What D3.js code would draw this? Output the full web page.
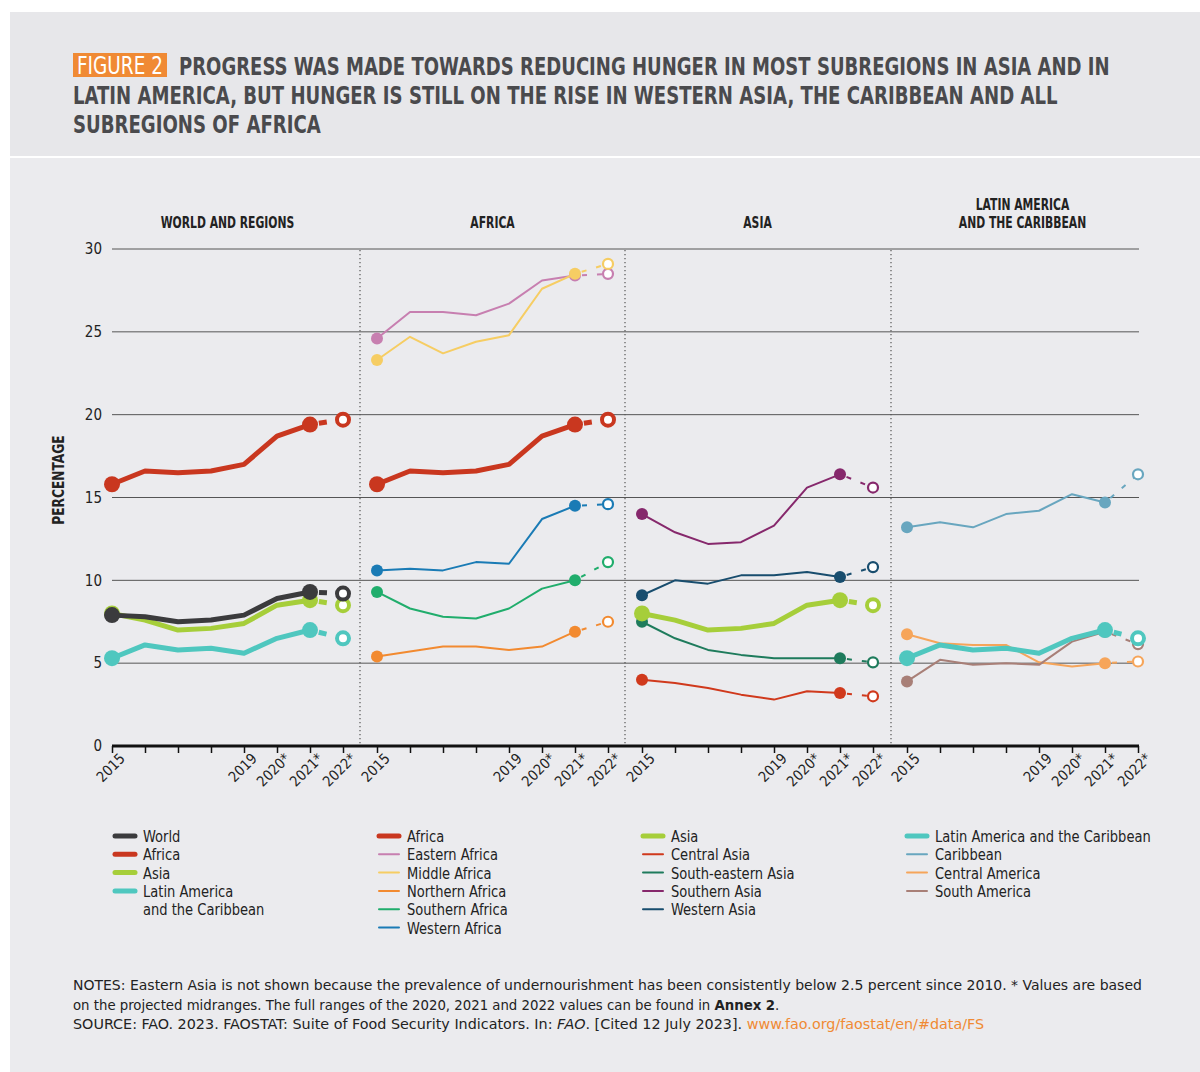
<!DOCTYPE html>
<html>
<head>
<meta charset="utf-8">
<script src="https://cdn.jsdelivr.net/npm/d3@7"></script>
<style>
  body { margin: 0; background: #fff; }
  svg text { font-family: 'DejaVu Sans Condensed', 'DejaVu Sans', sans-serif; }
</style>
</head>
<body>
<svg id="chart" width="1200" height="1072"></svg>
<script>
// years and labels
var years = [2015, 2016, 2017, 2018, 2019, 2020, 2021, 2022];
var tickLabels = ['2015', '', '', '', '2019', '2020*', '2021*', '2022*'];
var yTicks = [0, 5, 10, 15, 20, 25, 30];

// world and regions
var world = [7.9, 7.8, 7.5, 7.6, 7.9, 8.9, 9.3, 9.2];
var africa = [15.8, 16.6, 16.5, 16.6, 17.0, 18.7, 19.4, 19.7];
var asia = [8.0, 7.6, 7.0, 7.1, 7.4, 8.5, 8.8, 8.5];
var latam = [5.3, 6.1, 5.8, 5.9, 5.6, 6.5, 7.0, 6.5];

// africa subregions
var easternAfrica = [24.6, 26.2, 26.2, 26.0, 26.7, 28.1, 28.4, 28.5];
var middleAfrica = [23.3, 24.7, 23.7, 24.4, 24.8, 27.6, 28.5, 29.1];
var northernAfrica = [5.4, 5.7, 6.0, 6.0, 5.8, 6.0, 6.9, 7.5];
var southernAfrica = [9.3, 8.3, 7.8, 7.7, 8.3, 9.5, 10.0, 11.1];
var westernAfrica = [10.6, 10.7, 10.6, 11.1, 11.0, 13.7, 14.5, 14.6];

// asia subregions
var centralAsia = [4.0, 3.8, 3.5, 3.1, 2.8, 3.3, 3.2, 3.0];
var southEasternAsia = [7.5, 6.5, 5.8, 5.5, 5.3, 5.3, 5.3, 5.05];
var southernAsia = [14.0, 12.9, 12.2, 12.3, 13.3, 15.6, 16.4, 15.6];
var westernAsia = [9.1, 10.0, 9.8, 10.3, 10.3, 10.5, 10.2, 10.8];

// latin america subregions
var caribbean = [13.2, 13.5, 13.2, 14.0, 14.2, 15.2, 14.7, 16.4];
var centralAmerica = [6.75, 6.2, 6.1, 6.1, 5.05, 4.8, 5.0, 5.1];
var southAmerica = [3.9, 5.2, 4.9, 5.0, 4.9, 6.3, 6.9, 6.15];

var colors = {
  'World': '#3b3b3d', 'Africa': '#c9371f', 'Asia': '#a6ce3a', 'Latin America and the Caribbean': '#4fc7bf',
  'Eastern Africa': '#c77fb0', 'Middle Africa': '#f6cd63', 'Northern Africa': '#f28a30',
  'Southern Africa': '#20ad6c', 'Western Africa': '#1a7bb5',
  'Central Asia': '#d0391c', 'South-eastern Asia': '#1e7b5c', 'Southern Asia': '#86286c', 'Western Asia': '#184d6e',
  'Caribbean': '#68a6bf', 'Central America': '#f6a55a', 'South America': '#a87f77'
};
var thick = ['World', 'Africa', 'Asia', 'Latin America and the Caribbean'];

var panels = [
  { title: ['WORLD AND REGIONS'], series: [['Africa', africa], ['Latin America and the Caribbean', latam], ['Asia', asia], ['World', world]] },
  { title: ['AFRICA'], series: [['Eastern Africa', easternAfrica], ['Middle Africa', middleAfrica], ['Africa', africa],
      ['Western Africa', westernAfrica], ['Southern Africa', southernAfrica], ['Northern Africa', northernAfrica]] },
  { title: ['ASIA'], series: [['Southern Asia', southernAsia], ['Western Asia', westernAsia], ['South-eastern Asia', southEasternAsia],
      ['Asia', asia], ['Central Asia', centralAsia]] },
  { title: ['LATIN AMERICA', 'AND THE CARIBBEAN'], series: [['Caribbean', caribbean], ['Central America', centralAmerica],
      ['South America', southAmerica], ['Latin America and the Caribbean', latam]] }
];

var legendCols = [
  [['World', 'World'], ['Africa', 'Africa'], ['Asia', 'Asia'], ['Latin America and the Caribbean', 'Latin America|and the Caribbean']],
  [['Africa', 'Africa'], ['Eastern Africa', 'Eastern Africa'], ['Middle Africa', 'Middle Africa'], ['Northern Africa', 'Northern Africa'],
   ['Southern Africa', 'Southern Africa'], ['Western Africa', 'Western Africa']],
  [['Asia', 'Asia'], ['Central Asia', 'Central Asia'], ['South-eastern Asia', 'South-eastern Asia'], ['Southern Asia', 'Southern Asia'], ['Western Asia', 'Western Asia']],
  [['Latin America and the Caribbean', 'Latin America and the Caribbean'], ['Caribbean', 'Caribbean'], ['Central America', 'Central America'], ['South America', 'South America']]
];

var svg = d3.select('#chart');

// squeeze a text horizontally by k, keeping glyph height (fake condensed face)
function condense(t, k) {
  var x = +t.attr('x'), y = +t.attr('y'), fs = +t.attr('font-size');
  t.attr('x', 0).attr('y', 0).attr('font-size', fs * k)
    .attr('transform', 'translate(' + x + ',' + y + ') scale(1,' + (1 / k) + ')');
  return t;
}
// squeeze to a given width
function fitWidth(t, w) {
  var nat = t.node().getComputedTextLength();
  return condense(t, w / nat);
}

// backgrounds
svg.append('rect').attr('x', 10).attr('y', 12).attr('width', 1190).attr('height', 1060).attr('fill', '#ebebee');
svg.append('rect').attr('x', 10).attr('y', 12).attr('width', 1190).attr('height', 144).attr('fill', '#e7e7ea');
svg.append('line').attr('x1', 10).attr('x2', 1200).attr('y1', 157).attr('y2', 157).attr('stroke', '#fff').attr('stroke-width', 2);

// title
svg.append('rect').attr('x', 73).attr('y', 53).attr('width', 94).attr('height', 24).attr('fill', '#f08a34');
fitWidth(svg.append('text').attr('x', 77).attr('y', 74).attr('fill', '#fff').attr('font-size', 24).text('FIGURE 2'), 86);
var titleLines = [
  [179, 75, 931, 'PROGRESS WAS MADE TOWARDS REDUCING HUNGER IN MOST SUBREGIONS IN ASIA AND IN'],
  [73, 104, 985, 'LATIN AMERICA, BUT HUNGER IS STILL ON THE RISE IN WESTERN ASIA, THE CARIBBEAN AND ALL'],
  [73, 133, 248, 'SUBREGIONS OF AFRICA']
];
titleLines.forEach(function(t) {
  var el = svg.append('text').attr('x', t[0]).attr('y', t[1]).attr('font-size', 24.5).attr('font-weight', 'bold')
    .attr('fill', '#4a4a4d').text(t[3]);
  fitWidth(el, t[2]);
});

var y = d3.scaleLinear().domain([0, 30]).range([746, 249]);
var xLeft = 112, xRight = 1139, panelStep = 265, panelWidth = 231;

// gridlines
svg.append('g').selectAll('line').data(yTicks.filter(function(d) { return d > 0; })).join('line')
  .attr('x1', xLeft).attr('x2', xRight).attr('y1', y).attr('y2', y)
  .attr('stroke', '#555').attr('stroke-width', 1);

var yAxis = svg.append('g').attr('transform', 'translate(' + xLeft + ',0)')
  .call(d3.axisLeft(y).tickValues(yTicks).tickSize(0).tickPadding(10));
yAxis.select('.domain').remove();
yAxis.selectAll('text').attr('font-size', 15).attr('fill', '#222')
  .style('font-family', "'DejaVu Sans Condensed', sans-serif");

condense(svg.append('text').attr('x', 0).attr('y', 0).attr('text-anchor', 'middle')
  .attr('font-size', 16).attr('font-weight', 'bold').attr('fill', '#222').text('PERCENTAGE'), 0.85)
  .attr('transform', 'translate(64,480) rotate(-90) scale(1,' + (1 / 0.85) + ')');

// separators
[360, 625, 891].forEach(function(sx) {
  svg.append('line').attr('x1', sx).attr('x2', sx).attr('y1', 250).attr('y2', 744)
    .attr('stroke', '#555').attr('stroke-width', 1.2).attr('stroke-dasharray', '1.2,2.8');
});

// base axis line
svg.append('line').attr('x1', xLeft).attr('x2', xRight).attr('y1', 746).attr('y2', 746)
  .attr('stroke', '#111').attr('stroke-width', 3);

panels.forEach(function(p, i) {
  var x0 = xLeft + i * panelStep;
  var x = d3.scaleLinear().domain([2015, 2022]).range([x0, x0 + panelWidth]);
  var g = svg.append('g');

  // x axis
  var xa = g.append('g').attr('transform', 'translate(0,746)')
    .call(d3.axisBottom(x).tickValues(years).tickSize(7).tickFormat(function(d, k) { return tickLabels[k]; }));
  xa.select('.domain').remove();
  xa.selectAll('.tick line').attr('stroke', '#111').attr('stroke-width', 1.5);
  xa.selectAll('text').attr('font-size', 14.5).attr('fill', '#222').attr('text-anchor', 'end')
    .attr('transform', 'translate(7,7) rotate(-45)').attr('dy', '0.35em').attr('y', 4).attr('x', 0)
    .style('font-family', "'DejaVu Sans Condensed', sans-serif");

  // panel title
  p.title.forEach(function(t, k) {
    var el = g.append('text').attr('x', x0 + panelWidth / 2).attr('y', 228 - (p.title.length - 1 - k) * 18)
      .attr('text-anchor', 'middle').attr('font-size', 15).attr('font-weight', 'bold').attr('fill', '#222').text(t);
    condense(el, 0.8);
  });

  p.series.forEach(function(s) {
    var name = s[0], vals = s[1], c = colors[name], isThick = thick.indexOf(name) >= 0;
    var pts = years.map(function(yr, k) { return [x(yr), y(vals[k])]; });
    var sw = isThick ? 5 : 2;
    var line = d3.line().curve(d3.curveLinear);
    g.append('path').attr('d', line(pts.slice(0, 7))).attr('fill', 'none').attr('stroke', c)
      .attr('stroke-width', sw).attr('stroke-linejoin', 'round');
    g.append('path').attr('d', line(pts.slice(6, 8))).attr('fill', 'none').attr('stroke', c)
      .attr('stroke-width', sw).attr('stroke-dasharray', isThick ? '0,9,8,4' : '0,7,5,3');
    var r = isThick ? 8 : 6;
    [0, 6].forEach(function(k) {
      g.append('circle').attr('cx', pts[k][0]).attr('cy', pts[k][1]).attr('r', r).attr('fill', c);
    });
    g.append('circle').attr('cx', pts[7][0]).attr('cy', pts[7][1]).attr('r', isThick ? 6 : 5)
      .attr('fill', '#fff').attr('stroke', c).attr('stroke-width', isThick ? 4 : 2.2);
  });
});

// legend
legendCols.forEach(function(col, i) {
  var lx = 113 + i * 264;
  var row = 0;
  col.forEach(function(item) {
    var name = item[0], isThick = thick.indexOf(name) >= 0;
    var ly = 836 + row * 18.3;
    svg.append('line').attr('x1', lx + 2).attr('x2', lx + 22).attr('y1', ly).attr('y2', ly)
      .attr('stroke', colors[name]).attr('stroke-width', isThick ? 5 : 2).attr('stroke-linecap', 'round');
    item[1].split('|').forEach(function(t) {
      var el = svg.append('text').attr('x', lx + 30).attr('y', ly + 6).attr('font-size', 16.5).attr('fill', '#222').text(t);
      condense(el, 0.88);
      row++;
      ly = 836 + row * 18.3;
    });
  });
});

// notes
var notes = svg.append('g').attr('fill', '#222');
var n1 = notes.append('text').attr('x', 73).attr('y', 990).attr('font-size', 14.5)
  .text('NOTES: Eastern Asia is not shown because the prevalence of undernourishment has been consistently below 2.5 percent since 2010. * Values are based');
fitWidth(n1, 1070);
var n2 = notes.append('text').attr('x', 73).attr('y', 1010).attr('font-size', 14.5);
n2.append('tspan').text('on the projected midranges. The full ranges of the 2020, 2021 and 2022 values can be found in ');
n2.append('tspan').attr('font-weight', 'bold').text('Annex 2');
n2.append('tspan').text('.');
fitWidth(n2, 707);
var n3 = notes.append('text').attr('x', 73).attr('y', 1029).attr('font-size', 14.5);
n3.append('tspan').text('SOURCE: FAO. 2023. FAOSTAT: Suite of Food Security Indicators. In: ');
n3.append('tspan').attr('font-style', 'italic').text('FAO');
n3.append('tspan').text('. [Cited 12 July 2023]. ');
n3.append('tspan').attr('fill', '#f08a34').text('www.fao.org/faostat/en/#data/FS');
fitWidth(n3, 912);
</script>
</body>
</html>
